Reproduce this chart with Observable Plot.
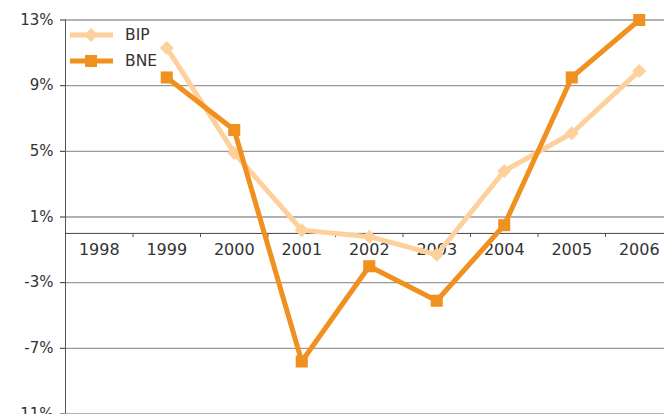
<!DOCTYPE html>
<html>
<head>
<meta charset="utf-8">
<script src="https://cdn.jsdelivr.net/npm/d3@7"></script>
<script src="https://cdn.jsdelivr.net/npm/@observablehq/plot@0.6"></script>
<style>
  html, body { margin: 0; padding: 0; background: white; overflow: hidden; }
  #wrap { position: relative; width: 664px; height: 414px; font-family: "DejaVu Sans", sans-serif; }
  .leg { position: absolute; left: 70px; display: flex; align-items: center; height: 18px; font-size: 15.5px; color: #333; }
  .leg span { margin-left: 12px; }
</style>
</head>
<body>
<div id="wrap">
  <div id="chart"></div>
  <div class="leg" style="top:26px">
    <svg width="43" height="18"><line x1="0" y1="9" x2="43" y2="9" stroke="#fed19c" stroke-width="5"/><polygon points="21,2 28,9 21,16 14,9" fill="#fed19c"/></svg>
    <span>BIP</span>
  </div>
  <div class="leg" style="top:52px">
    <svg width="43" height="18"><line x1="0" y1="9" x2="43" y2="9" stroke="#f0901f" stroke-width="5"/><rect x="15" y="3" width="12" height="12" fill="#f0901f"/></svg>
    <span>BNE</span>
  </div>
</div>
<script>
const years = [1998, 1999, 2000, 2001, 2002, 2003, 2004, 2005, 2006];
const seriesYears = [1999, 2000, 2001, 2002, 2003, 2004, 2005, 2006];
const bip = [11.3, 4.9, 0.2, -0.2, -1.3, 3.8, 6.1, 9.9];
const bne = [9.5, 6.3, -7.8, -2.0, -4.1, 0.5, 9.5, 13.0];
const yTicks = [13, 9, 5, 1, -3, -7, -11];
const boundaries = [1998.5, 1999.5, 2000.5, 2001.5, 2002.5, 2003.5, 2004.5, 2005.5];

const bipData = seriesYears.map((yr, i) => ({year: yr, value: bip[i]}));
const bneData = seriesYears.map((yr, i) => ({year: yr, value: bne[i]}));

const chart = Plot.plot({
  width: 664,
  height: 414,
  marginLeft: 65,
  marginRight: 0,
  marginTop: 19.5,
  marginBottom: 0.5,
  style: {fontFamily: "DejaVu Sans, sans-serif", fontSize: "15px", color: "#333", background: "white"},
  x: {domain: [1997.5, 2006.5], range: [65, 672.5], axis: null},
  y: {domain: [-11, 13], ticks: yTicks, tickFormat: d => d + "%", tickSize: 5, tickPadding: 7, label: null},
  marks: [
    Plot.ruleY(yTicks, {x1: 1997.5, x2: 2006.5, stroke: "#999", strokeWidth: 1.3}),
    Plot.ruleX([1997.5], {stroke: "#555", strokeWidth: 1}),
    Plot.ruleY([0], {x1: 1997.5, x2: 2006.5, stroke: "#444", strokeWidth: 1}),
    Plot.ruleX(boundaries, {y1: 0, y2: -0.25, stroke: "#555", strokeWidth: 1}),
    Plot.text(years, {x: d => d, y: 0, dy: 16, text: d => String(d), fill: "#333", fontSize: 16}),
    Plot.line(bipData, {x: "year", y: "value", stroke: "#fed19c", strokeWidth: 5}),
    Plot.dot(bipData, {x: "year", y: "value", symbol: "diamond2", r: 6.3, fill: "#fed19c", stroke: "none"}),
    Plot.line(bneData, {x: "year", y: "value", stroke: "#f0901f", strokeWidth: 5}),
    Plot.dot(bneData, {x: "year", y: "value", symbol: "square", r: 6.8, fill: "#f0901f", stroke: "none"})
  ]
});
document.getElementById("chart").appendChild(chart);
</script>
</body>
</html>
